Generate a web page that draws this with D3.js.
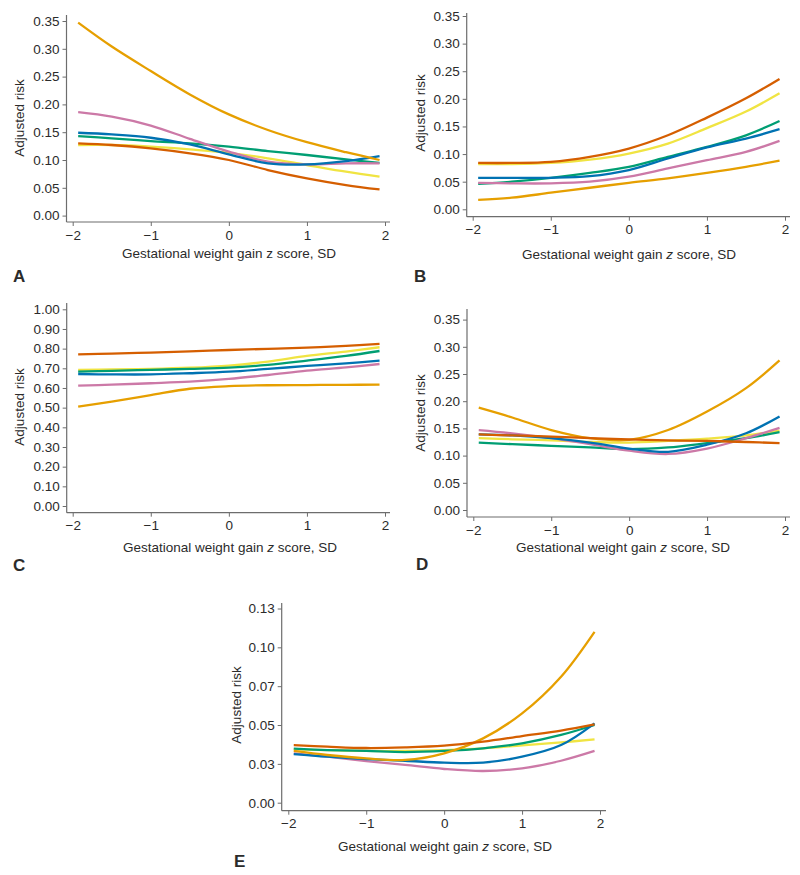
<!DOCTYPE html>
<html><head><meta charset="utf-8">
<script src="https://cdn.jsdelivr.net/npm/d3@7"></script>
<style>
html,body{margin:0;padding:0;background:#fff;}
svg text{font-family:"Liberation Sans",Arial,Helvetica,sans-serif;fill:#2b2b2b;}
</style></head>
<body>
<svg id="chart" width="800" height="875"></svg>
<script>
// ---------------- data ----------------
const xs = [-1.93, -1.5, -1, -0.5, 0, 0.5, 1, 1.5, 1.93];
const seriesNames = ["yellow", "green", "pink", "blue", "orange", "red"];
const xTickValues = [-2, -1, 0, 1, 2];
const xTickLabels = ["\u22122", "\u22121", "0", "1", "2"];

// Panel A
const aYellow = [0.127, 0.127, 0.124, 0.119, 0.113, 0.103, 0.091, 0.079, 0.070];
const aGreen  = [0.143, 0.139, 0.134, 0.130, 0.124, 0.116, 0.109, 0.101, 0.095];
const aPink   = [0.186, 0.178, 0.162, 0.138, 0.115, 0.097, 0.092, 0.094, 0.094];
const aBlue   = [0.149, 0.146, 0.140, 0.128, 0.110, 0.094, 0.092, 0.098, 0.107];
const aOrange = [0.347, 0.304, 0.260, 0.218, 0.182, 0.154, 0.132, 0.114, 0.100];
const aRed    = [0.130, 0.127, 0.121, 0.112, 0.100, 0.082, 0.067, 0.055, 0.047];
// Panel B
const bYellow = [0.082, 0.082, 0.084, 0.090, 0.101, 0.119, 0.147, 0.177, 0.210];
const bGreen  = [0.046, 0.050, 0.057, 0.066, 0.077, 0.095, 0.113, 0.134, 0.160];
const bPink   = [0.048, 0.047, 0.047, 0.050, 0.059, 0.074, 0.089, 0.104, 0.124];
const bBlue   = [0.057, 0.057, 0.057, 0.060, 0.071, 0.092, 0.112, 0.128, 0.145];
const bOrange = [0.017, 0.021, 0.030, 0.039, 0.048, 0.056, 0.066, 0.077, 0.088];
const bRed    = [0.084, 0.084, 0.086, 0.095, 0.110, 0.134, 0.166, 0.201, 0.236];
// Panel C
const cYellow = [0.692, 0.694, 0.697, 0.703, 0.714, 0.734, 0.763, 0.785, 0.807];
const cGreen  = [0.683, 0.687, 0.692, 0.697, 0.703, 0.717, 0.739, 0.763, 0.788];
const cPink   = [0.612, 0.617, 0.624, 0.632, 0.646, 0.666, 0.688, 0.705, 0.722];
const cBlue   = [0.671, 0.669, 0.669, 0.675, 0.683, 0.697, 0.712, 0.725, 0.739];
const cOrange = [0.505, 0.531, 0.564, 0.596, 0.609, 0.614, 0.615, 0.616, 0.617];
const cRed    = [0.771, 0.775, 0.780, 0.786, 0.793, 0.799, 0.805, 0.814, 0.824];
// Panel D
const dYellow = [0.132, 0.130, 0.128, 0.125, 0.124, 0.127, 0.131, 0.137, 0.146];
const dGreen  = [0.124, 0.121, 0.118, 0.115, 0.112, 0.115, 0.123, 0.132, 0.143];
const dPink   = [0.147, 0.141, 0.132, 0.121, 0.109, 0.103, 0.113, 0.132, 0.151];
const dBlue   = [0.139, 0.137, 0.132, 0.124, 0.113, 0.107, 0.120, 0.141, 0.172];
const dOrange = [0.188, 0.170, 0.147, 0.132, 0.129, 0.147, 0.181, 0.224, 0.275];
const dRed    = [0.139, 0.137, 0.135, 0.132, 0.130, 0.128, 0.127, 0.125, 0.123];
// Panel E
const eYellow = [0.0343, 0.0338, 0.0333, 0.0333, 0.0339, 0.0350, 0.0369, 0.0388, 0.0408];
const eGreen  = [0.0348, 0.0339, 0.0333, 0.0326, 0.0333, 0.0350, 0.0382, 0.0436, 0.0500];
const ePink   = [0.0318, 0.0296, 0.0268, 0.0243, 0.0217, 0.0204, 0.0221, 0.0270, 0.0333];
const eBlue   = [0.0313, 0.0296, 0.0281, 0.0270, 0.0258, 0.0258, 0.0296, 0.0371, 0.0511];
const eOrange = [0.0333, 0.0307, 0.0285, 0.0275, 0.0318, 0.0414, 0.0575, 0.0811, 0.1100];
const eRed    = [0.0371, 0.0361, 0.0352, 0.0356, 0.0367, 0.0393, 0.0429, 0.0464, 0.0504];

const yTicksA = [0, 0.05, 0.10, 0.15, 0.20, 0.25, 0.30, 0.35];
const yLabelsA = ["0.00","0.05","0.10","0.15","0.20","0.25","0.30","0.35"];
const yTicksC = [0, 0.1, 0.2, 0.3, 0.4, 0.5, 0.6, 0.7, 0.8, 0.9, 1.0];
const yLabelsC = ["0.00","0.10","0.20","0.30","0.40","0.50","0.60","0.70","0.80","0.90","1.00"];
const yTicksE = [0, 0.025, 0.05, 0.075, 0.10, 0.125];
const yLabelsE = ["0.00","0.03","0.05","0.07","0.10","0.13"];

const panelLetters = ["A", "B", "C", "D", "E"];
const yTitle = "Adjusted risk";

// ---------------- style / layout ----------------
const colors = {yellow:"#F0E442", green:"#009E73", pink:"#CC79A7", blue:"#0072B2", orange:"#E69F00", red:"#D55E00"};

const panels = [
  {letter:"A", data:{yellow:aYellow,green:aGreen,pink:aPink,blue:aBlue,orange:aOrange,red:aRed},
   yTicks:yTicksA, yLabels:yLabelsA, yMax:0.35, italicZ:false,
   axX:66.5, x0:72.7, x1:385, yBot:215.6, yTop:21, axY:222, axTop:15, axRight:390,
   yTitleX:19, yTitleY:118, xTitleX:229, xTitleY:258, letX:13, letY:282},
  {letter:"B", data:{yellow:bYellow,green:bGreen,pink:bPink,blue:bBlue,orange:bOrange,red:bRed},
   yTicks:yTicksA, yLabels:yLabelsA, yMax:0.35, italicZ:true,
   axX:466.7, x0:472.7, x1:785, yBot:209.3, yTop:16, axY:216.7, axTop:13, axRight:790,
   yTitleX:420, yTitleY:113, xTitleX:629, xTitleY:259, letX:414, letY:282},
  {letter:"C", data:{yellow:cYellow,green:cGreen,pink:cPink,blue:cBlue,orange:cOrange,red:cRed},
   yTicks:yTicksC, yLabels:yLabelsC, yMax:1.0, italicZ:true,
   axX:66.7, x0:72.7, x1:385, yBot:506, yTop:309.3, axY:512.7, axTop:303, axRight:390,
   yTitleX:19, yTitleY:407, xTitleX:230, xTitleY:552, letX:13, letY:571},
  {letter:"D", data:{yellow:dYellow,green:dGreen,pink:dPink,blue:dBlue,orange:dOrange,red:dRed},
   yTicks:yTicksA, yLabels:yLabelsA, yMax:0.35, italicZ:true,
   axX:467, x0:473.3, x1:785, yBot:510, yTop:319.6, axY:517, axTop:309, axRight:790,
   yTitleX:420, yTitleY:413, xTitleX:623, xTitleY:552, letX:416, letY:570},
  {letter:"E", data:{yellow:eYellow,green:eGreen,pink:ePink,blue:eBlue,orange:eOrange,red:eRed},
   yTicks:yTicksE, yLabels:yLabelsE, yMax:0.125, italicZ:true,
   axX:281.7, x0:288.3, x1:600, yBot:802.7, yTop:608.5, axY:810.7, axTop:603, axRight:606,
   yTitleX:236, yTitleY:705, xTitleX:445, xTitleY:851, letX:234, letY:867}
];

const svg = d3.select("#chart");
const axisColor = "#6d6d6d";

panels.forEach(p => {
  const g = svg.append("g");
  const x = d3.scaleLinear().domain([-2, 2]).range([p.x0, p.x1]);
  const y = d3.scaleLinear().domain([0, p.yMax]).range([p.yBot, p.yTop]);

  // x axis
  const xAxis = d3.axisBottom(x).tickValues(xTickValues)
    .tickFormat((d,i) => xTickLabels[i]).tickSizeOuter(0).tickSizeInner(4).tickPadding(4);
  const gx = g.append("g").attr("transform", `translate(0,${p.axY})`).call(xAxis);
  gx.select(".domain").remove();
  gx.append("line").attr("x1", p.axX).attr("x2", p.axRight).attr("y1", 0).attr("y2", 0)
    .attr("stroke", axisColor).attr("stroke-width", 1.2);
  gx.selectAll(".tick line").attr("stroke", axisColor);
  gx.selectAll(".tick text").attr("font-size", 13.5).attr("fill", "#2b2b2b");

  // y axis
  const yAxis = d3.axisLeft(y).tickValues(p.yTicks)
    .tickFormat((d,i) => p.yLabels[i]).tickSizeOuter(0).tickSizeInner(4).tickPadding(3);
  const gy = g.append("g").attr("transform", `translate(${p.axX},0)`).call(yAxis);
  gy.select(".domain").remove();
  gy.append("line").attr("x1", 0).attr("x2", 0).attr("y1", p.axTop).attr("y2", p.axY)
    .attr("stroke", axisColor).attr("stroke-width", 1.2);
  gy.selectAll(".tick line").attr("stroke", axisColor);
  gy.selectAll(".tick text").attr("font-size", 13.5).attr("fill", "#2b2b2b");

  // lines
  const line = d3.line().x(d => x(d[0])).y(d => y(d[1])).curve(d3.curveCatmullRom.alpha(0.5));
  seriesNames.forEach(name => {
    const vals = p.data[name];
    g.append("path").datum(xs.map((xv, i) => [xv, vals[i]]))
      .attr("d", line).attr("fill", "none")
      .attr("stroke", colors[name]).attr("stroke-width", 2.3)
      .attr("stroke-linecap", "butt");
  });

  // titles
  g.append("text").attr("transform", `translate(${p.yTitleX},${p.yTitleY}) rotate(-90)`)
    .attr("text-anchor", "middle").attr("dominant-baseline", "central")
    .attr("font-size", 13.5).text(yTitle);
  const xt = g.append("text").attr("x", p.xTitleX).attr("y", p.xTitleY)
    .attr("text-anchor", "middle").attr("font-size", 13.5);
  xt.append("tspan").text("Gestational weight gain ");
  xt.append("tspan").attr("font-style", p.italicZ ? "italic" : "normal").text("z");
  xt.append("tspan").text(" score, SD");

  g.append("text").attr("x", p.letX).attr("y", p.letY)
    .attr("font-size", 17).attr("font-weight", "bold").attr("fill", "#231f20").text(p.letter);
});
</script>
</body></html>
